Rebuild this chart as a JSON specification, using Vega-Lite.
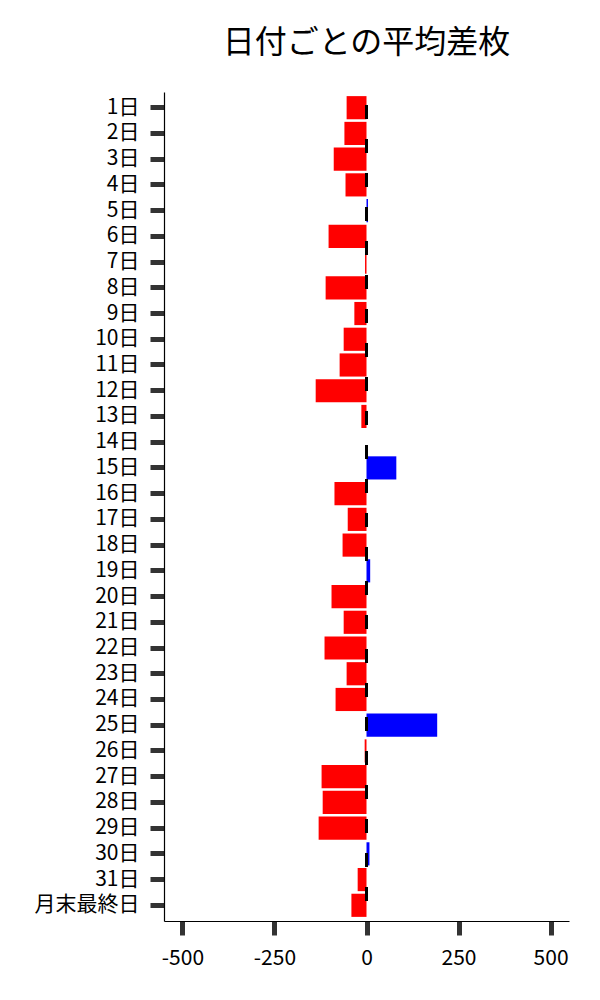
{
  "$schema": "https://vega.github.io/schema/vega-lite/v6.json",
  "description": "Horizontal bar chart of average difference per day of month.",
  "autosize": {"type": "none"},
  "width": 405,
  "height": 829,
  "padding": {"left": 164, "top": 92, "right": 31, "bottom": 79},
  "background": "white",
  "title": {
    "text": "日付ごとの平均差枚",
    "font": "Noto Sans CJK JP",
    "fontSize": 32,
    "fontWeight": "normal",
    "color": "black",
    "anchor": "middle",
    "frame": "group",
    "offset": 31
  },
  "config": {
    "view": {"stroke": null},
    "font": "Noto Sans CJK JP"
  },
  "data": {
    "values": [
      {"day": "1日", "value": -54},
      {"day": "2日", "value": -60},
      {"day": "3日", "value": -89},
      {"day": "4日", "value": -57},
      {"day": "5日", "value": 4},
      {"day": "6日", "value": -103},
      {"day": "7日", "value": -4},
      {"day": "8日", "value": -111},
      {"day": "9日", "value": -33},
      {"day": "10日", "value": -62},
      {"day": "11日", "value": -73},
      {"day": "12日", "value": -138},
      {"day": "13日", "value": -14},
      {"day": "14日", "value": 0},
      {"day": "15日", "value": 81},
      {"day": "16日", "value": -87},
      {"day": "17日", "value": -51},
      {"day": "18日", "value": -65},
      {"day": "19日", "value": 10},
      {"day": "20日", "value": -95},
      {"day": "21日", "value": -62},
      {"day": "22日", "value": -114},
      {"day": "23日", "value": -54},
      {"day": "24日", "value": -84},
      {"day": "25日", "value": 192},
      {"day": "26日", "value": -5},
      {"day": "27日", "value": -122},
      {"day": "28日", "value": -119},
      {"day": "29日", "value": -130},
      {"day": "30日", "value": 8},
      {"day": "31日", "value": -24},
      {"day": "月末最終日", "value": -41}
    ]
  },
  "layer": [
    {
      "mark": {"type": "bar"},
      "encoding": {
        "y": {
          "field": "day",
          "type": "nominal",
          "sort": null,
          "scale": {"paddingInner": 0.1, "paddingOuter": 0.16},
          "axis": {
            "title": null,
            "labelFontSize": 21,
            "labelColor": "black",
            "labelPadding": 11,
            "tickSize": 14,
            "tickWidth": 5,
            "tickColor": "#333333",
            "domainColor": "black",
            "domainWidth": 1.2,
            "grid": false
          }
        },
        "x": {
          "field": "value",
          "type": "quantitative",
          "scale": {"domain": [-550, 550], "nice": false},
          "axis": {
            "title": null,
            "values": [-500, -250, 0, 250, 500],
            "labelExpr": "'' + datum.value",
            "labelFontSize": 21,
            "labelColor": "black",
            "labelPadding": 12,
            "tickSize": 14,
            "tickWidth": 5,
            "tickColor": "#333333",
            "domainColor": "black",
            "domainWidth": 1.2,
            "grid": false
          }
        },
        "color": {
          "condition": {"test": "datum.value < 0", "value": "#ff0000"},
          "value": "#0000ff"
        }
      }
    },
    {
      "mark": {
        "type": "rule",
        "color": "black",
        "strokeWidth": 2,
        "strokeDash": [14, 20],
        "strokeDashOffset": 21
      },
      "encoding": {
        "x": {"datum": 0, "type": "quantitative"}
      }
    }
  ]
}
